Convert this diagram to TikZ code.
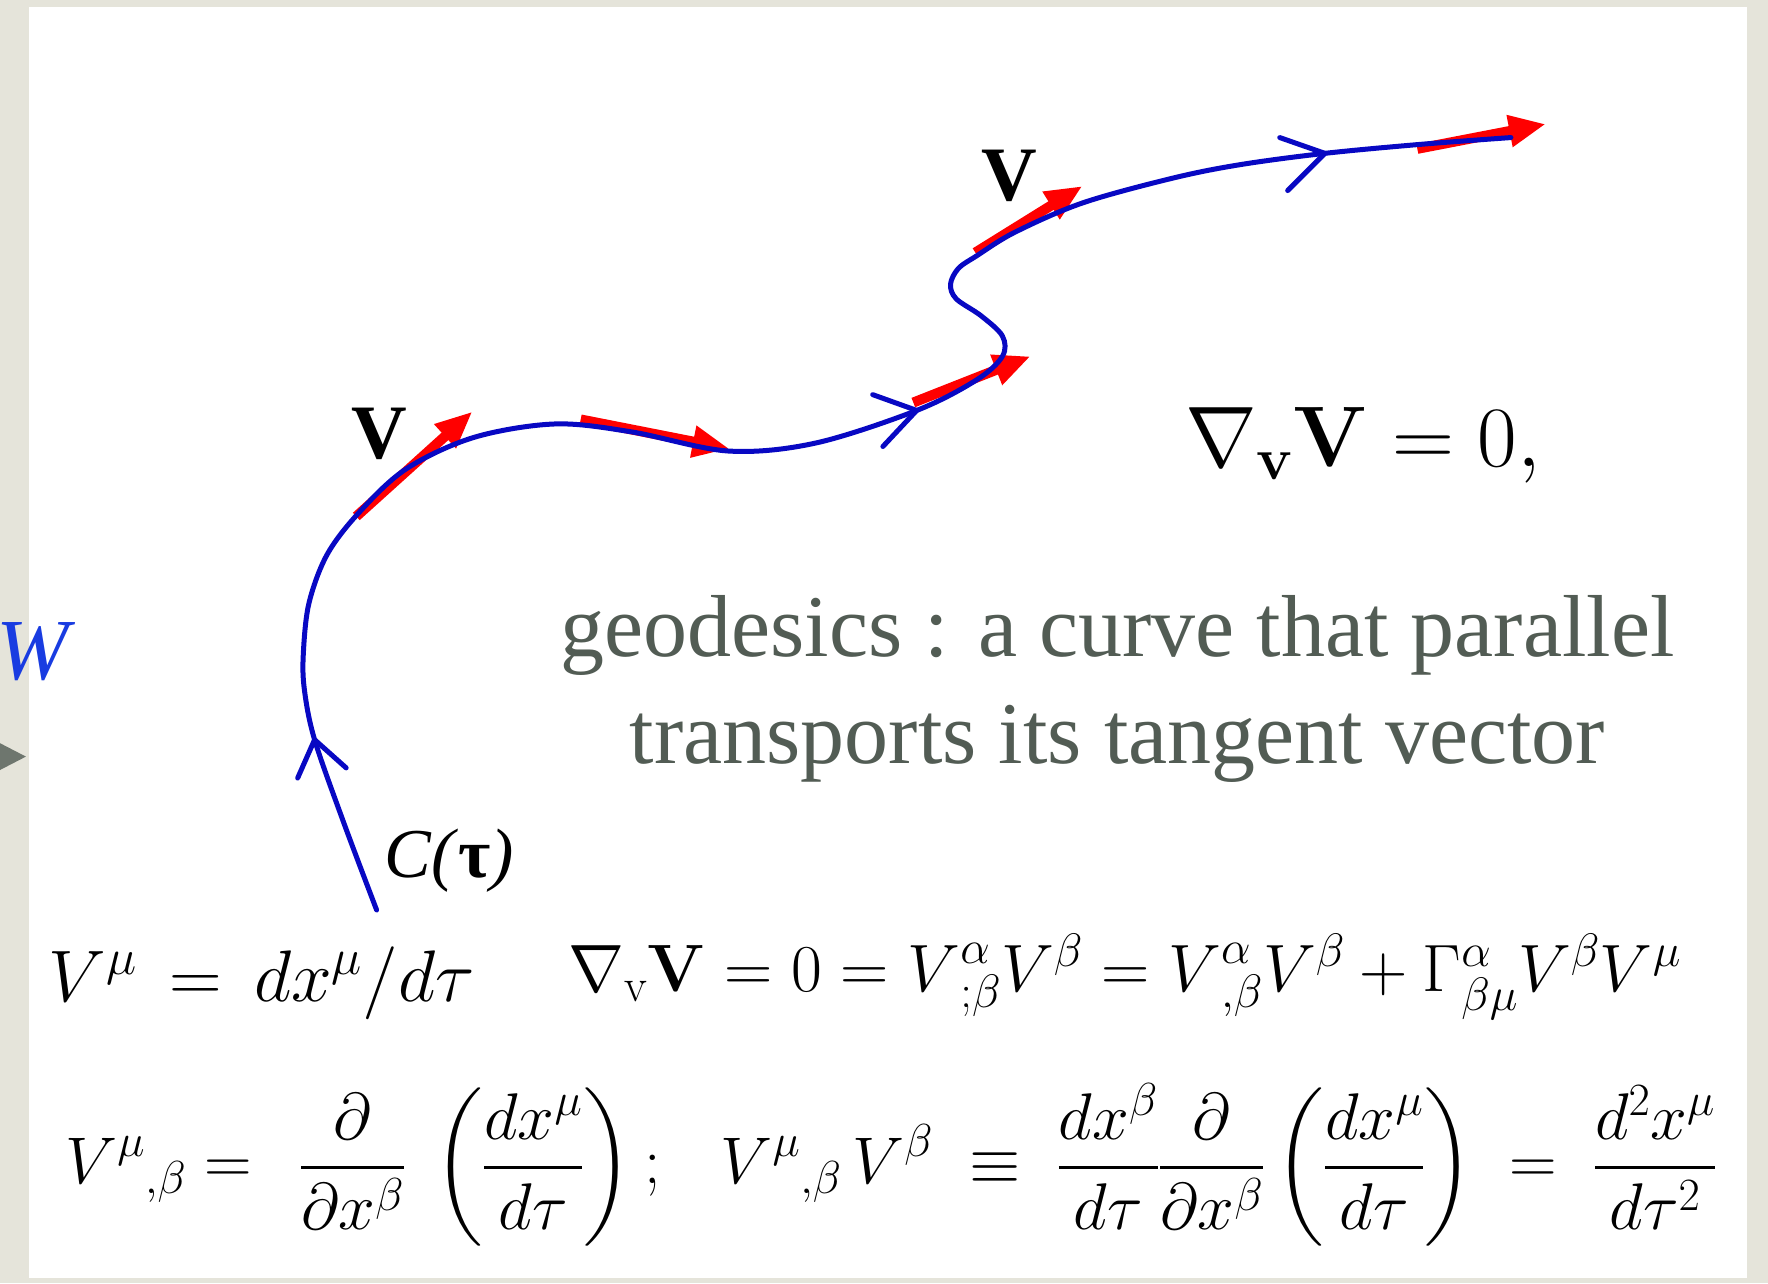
\RequirePackage{fix-cm}
\documentclass[tikz,border=0pt]{standalone}
\usepackage[no-math]{fontspec}
\setmainfont{Liberation Serif}
\usetikzlibrary{arrows.meta}
\DeclareFontShape{OMX}{cmex}{m}{n}{<->cmex10}{}
\definecolor{beige}{RGB}{229,228,218}
\definecolor{textgray}{RGB}{82,92,84}
\definecolor{wblue}{RGB}{25,60,225}
\definecolor{curveblue}{RGB}{8,8,195}
\definecolor{bulletgray}{RGB}{110,118,110}
\definecolor{vecred}{RGB}{255,0,0}
\tikzset{
  curve/.style={draw=curveblue, line width=5pt, line cap=round, line join=round},
  vecarrow/.style={draw=vecred, line width=10pt, -{Triangle[length=37pt,width=30pt]}},
  plaintext/.style={inner sep=0pt, outer sep=0pt},
  bigtext/.style={plaintext, anchor=base, text=textgray, font=\fontsize{88}{100}\selectfont},
  vlabel/.style={plaintext, font=\fontsize{77}{80}\selectfont\bfseries},
  mathline/.style={plaintext, anchor=base west}
}
\begin{document}
\begin{tikzpicture}[x=1.1276pt,y=-1.1276pt]
\useasboundingbox (0,0) rectangle (1568,1138);
\fill[beige] (0,0) rectangle (1568,1138);
\fill[white] (26,6) rectangle (1549,1133);

% left-edge remnants
\node[plaintext, anchor=base west, text=wblue, font=\fontsize{87}{90}\selectfont\itshape] (w) at (-3,603) {W};
\fill[bulletgray] (23,671) -- (-6,656) -- (-6,686) -- cycle;

% red tangent vectors
\draw[vecarrow] (316,458) -- (419,365);
\draw[vecarrow] (515,372) -- (647,398);
\draw[vecarrow] (810,357) -- (914,316);
\draw[vecarrow] (865,224) -- (960,165);
\draw[vecarrow] (1257,132) -- (1371,110);

% the curve C(tau)
\draw[curve] plot[smooth, tension=0.55] coordinates {
 (334,807) (305,730) (279,656) (270,612) (269,580) (274,535) (290,492)
 (318,455) (360,416) (420,388) (492,376) (560,383) (646,400)
 (723,393) (813,364) (866,337) (889,316) (889,298) (870,280) (848,265)
 (843,252) (850,238) (866,227) (900,206) (960,180) (1040,158)
 (1100,146) (1175,136) (1260,128) (1340,122)};

% direction chevrons
\draw[curve] (264,690) -- (279,656) -- (307,681);
\draw[curve] (774,350) -- (813,364) -- (783,396);
\draw[curve] (1135,122) -- (1175,136) -- (1142,169);

% labels
\node[vlabel] (v1) at (336,385) {V};
\node[vlabel] (v2) at (895,156) {V};
\node[plaintext, anchor=base west, font=\fontsize{70}{76}\selectfont] (ct) at (341,778) {\textit{C(}\textbf{τ}\textit{)}};

\node[mathline, font=\fontsize{86}{90}\selectfont] (eq0) at (1051,414) {$\nabla_{\mathbf{v}}\mathbf{V} = 0,$};

\node[bigtext] (g1) at (991,582) {geodesics : a curve that parallel};
\node[bigtext] (g2) at (991,677) {transports its tangent vector};

% formulas
\node[mathline, font=\fontsize{73}{80}\selectfont] (eq1) at (43,888) {$V^{\mu} \,=\, dx^{\mu}/d\tau$};
\node[mathline, font=\fontsize{67}{70}\selectfont] (eq2) at (504,879)
 {$\nabla_{\mathrm{v}}\mathbf{V} = 0 = {V\/}^{\alpha}_{;\beta}V^{\beta} = {V\/}^{\alpha}_{,\beta}V^{\beta} + \Gamma^{\alpha}_{\beta\mu}V^{\beta}V^{\mu}$};

\node[mathline, font=\fontsize{66}{70}\selectfont] (eq3) at (58,1050)
 {$\displaystyle V^{\mu}{}_{,\beta} =\;\, \frac{\partial}{\partial x^{\beta}}\;\left(\frac{dx^{\mu}}{d\tau}\right)$};
\node[mathline, font=\fontsize{66}{70}\selectfont] (semi) at (572,1050) {$;$};
\node[mathline, font=\fontsize{66}{70}\selectfont] (eq4) at (639,1050)
 {$\displaystyle V^{\mu}{}_{,\beta}\,V^{\beta} \;\equiv\; \frac{dx^{\beta}}{d\tau}\frac{\partial}{\partial x^{\beta}}\left(\frac{dx^{\mu}}{d\tau}\right) \;=\; \frac{d^2x^{\mu}}{d\tau^2}$};
\end{tikzpicture}
\end{document}
